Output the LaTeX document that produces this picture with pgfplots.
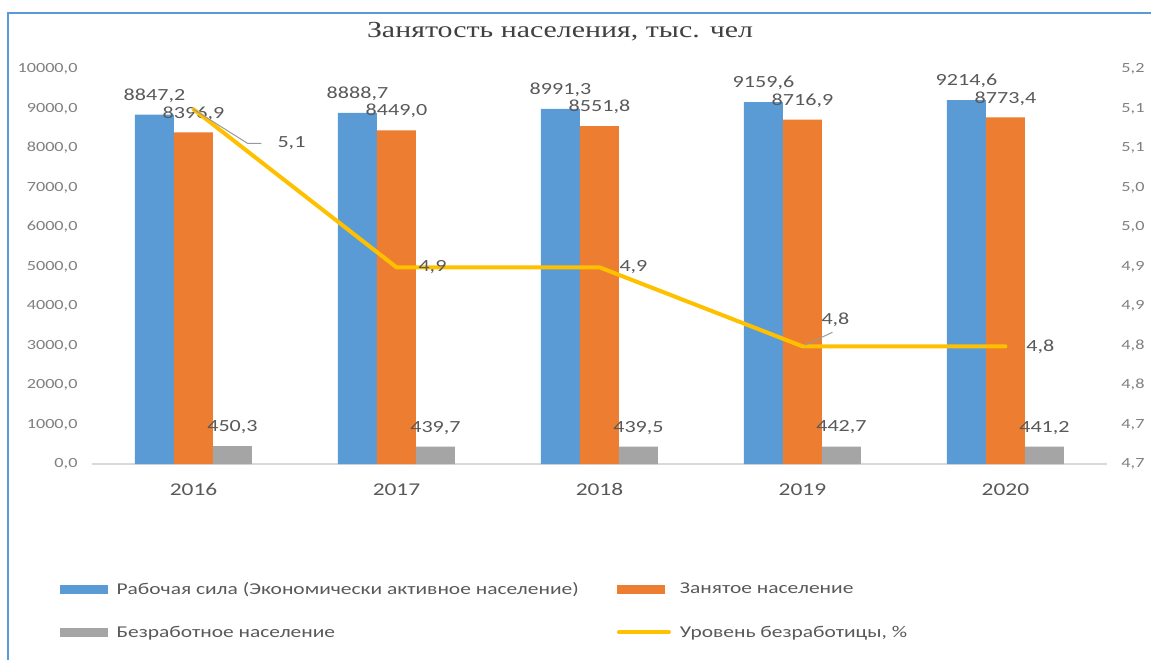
\documentclass[border=0pt]{standalone}
\usepackage{pgfplots}
\pgfplotsset{compat=1.18}
\usepackage{pgfplotstable}
\usepackage{fontspec}
\setmainfont{Carlito}[FakeStretch=1.3]
\newfontfamily\titlefont{Liberation Serif}[FakeStretch=1.3]
\definecolor{blueC}{HTML}{5B9BD5}
\definecolor{orangeC}{HTML}{ED7D31}
\definecolor{grayC}{HTML}{A5A5A5}
\definecolor{goldC}{HTML}{FFC000}
\definecolor{textC}{HTML}{595959}
\definecolor{titleC}{HTML}{404040}
\definecolor{tickC}{HTML}{7F7F7F}
\definecolor{frameC}{HTML}{5B9BD5}
\pgfplotsset{/pgf/number format/assume math mode=true,
  ratelab/.style n args={2}{draw=none, mark=none, forget plot, point meta=y,
    nodes near coords={\pgfmathprintnumber[fixed,precision=1,use comma]{\pgfplotspointmeta}},
    every node near coord/.append style={anchor=center, xshift=#1, yshift=#2, font=\fontsize{17}{17}\selectfont, text=textC, inner sep=0pt}}}
\pgfplotstableread{
x lf emp unemp
0 8847.2 8396.9 450.3
1 8888.7 8449.0 439.7
2 8991.3 8551.8 439.5
3 9159.6 8716.9 442.7
4 9214.6 8773.4 441.2
}\bars
\pgfplotstableread{
x rate
0 5.149
1 4.949
2 4.949
3 4.849
4 4.849
}\rate
\begin{document}
\begin{tikzpicture}[x=1pt,y=1pt]
\path[use as bounding box] (-92,-195) rectangle (1059,464);
\draw[frameC, line width=2pt] (-84,-197) -- (-84,451) -- (1059,451);
\node[font=\titlefont\fontsize{23}{23}\selectfont, text=titleC, anchor=base] at (468,426) {Занятость населения, тыс. чел};
\begin{axis}[
  at={(0pt,0pt)}, anchor=south west,
  scale only axis, width=1015pt, height=395pt,
  xmin=-0.5, xmax=4.5, ymin=0, ymax=10000,
  xtick={0,1,2,3,4}, xticklabels={2016,2017,2018,2019,2020},
  ytick={0,1000,...,10000},
  scaled y ticks=false,
  axis x line*=bottom, axis y line*=left,
  x axis line style={-, draw=black!15, line width=1.5pt},
  y axis line style={draw=none},
  tick style={draw=none},
  yticklabel={\pgfmathprintnumber[fixed,fixed zerofill,precision=1,use comma,1000 sep={}]{\tick}},
  yticklabel style={font=\fontsize{14}{14}\selectfont, text=tickC, xshift=-11pt},
  xticklabel style={font=\fontsize{18}{18}\selectfont, text=textC, anchor=center, yshift=-21pt},
  ybar=0pt, bar width=39pt,
  clip=false,
  point meta=y,
  nodes near coords={\pgfmathprintnumber[fixed,fixed zerofill,precision=1,use comma,1000 sep={}]{\pgfplotspointmeta}},
  every node near coord/.append style={anchor=center, yshift=19pt, inner sep=0pt, font=\fontsize{17}{17}\selectfont, text=textC},
]
\addplot[fill=blueC, draw=none] table[x=x, y=lf] {\bars};
\addplot[fill=orangeC, draw=none] table[x=x, y=emp] {\bars};
\addplot[fill=grayC, draw=none] table[x=x, y=unemp] {\bars};
\end{axis}
\begin{axis}[
  at={(0pt,0pt)}, anchor=south west,
  scale only axis, width=1015pt, height=395pt,
  xmin=-0.5, xmax=4.5, ymin=4.7, ymax=5.2,
  axis x line=none, axis y line*=right,
  y axis line style={draw=none}, tick style={draw=none},
  ytick={4.7,4.75,4.8,4.85,4.9,4.95,5,5.05,5.1,5.15,5.2},
  yticklabels={{4,7},{4,7},{4,8},{4,8},{4,9},{4,9},{5,0},{5,0},{5,1},{5,1},{5,2}},
  yticklabel style={font=\fontsize{14}{14}\selectfont, text=tickC, xshift=11pt},
  clip=false,
  legend columns=2,
  legend cell align=left,
  legend style={at={(0,0)}, anchor=north west, xshift=-35pt, yshift=-114pt, draw=none, fill=none, font=\fontsize{16.5}{16.5}\selectfont, text=textC,
    /tikz/every odd column/.append style={column sep=7pt},
    /tikz/every even column/.append style={column sep=36pt}, row sep=26pt},
]
\addlegendimage{legend image code/.code={\fill[blueC] (0pt,-4pt) rectangle (47pt,4pt);}}
\addlegendentry{Рабочая сила (Экономически активное население)}
\addlegendimage{legend image code/.code={\fill[orangeC] (0pt,-4pt) rectangle (47pt,4pt);}}
\addlegendentry{Занятое население}
\addlegendimage{legend image code/.code={\fill[grayC] (0pt,-4pt) rectangle (47pt,4pt);}}
\addlegendentry{Безработное население}
\addplot[goldC, line width=4pt, line join=round, line cap=round, mark=none,
  legend image code/.code={\draw[goldC, line width=4pt, line cap=round] (2pt,0pt) -- (52pt,0pt);}
] table[x=x, y=rate] {\rate};
\addlegendentry{Уровень безработицы, \%}
\addplot[ratelab={98pt}{-34pt}] coordinates {(0,5.149)};
\addplot[ratelab={36pt}{0pt}] coordinates {(1,4.949)};
\addplot[ratelab={34pt}{0pt}] coordinates {(2,4.949)};
\addplot[ratelab={33pt}{27pt}] coordinates {(3,4.849)};
\addplot[ratelab={35pt}{0pt}] coordinates {(4,4.849)};
\draw[black!40, line width=1pt] (axis cs:0,5.149) -- ([xshift=54pt,yshift=-34pt]axis cs:0,5.149) -- ([xshift=68pt,yshift=-34pt]axis cs:0,5.149);
\draw[black!40, line width=1pt] ([xshift=2pt,yshift=1pt]axis cs:3,4.849) -- ([xshift=30pt,yshift=14pt]axis cs:3,4.849);
\end{axis}
\end{tikzpicture}
\end{document}
